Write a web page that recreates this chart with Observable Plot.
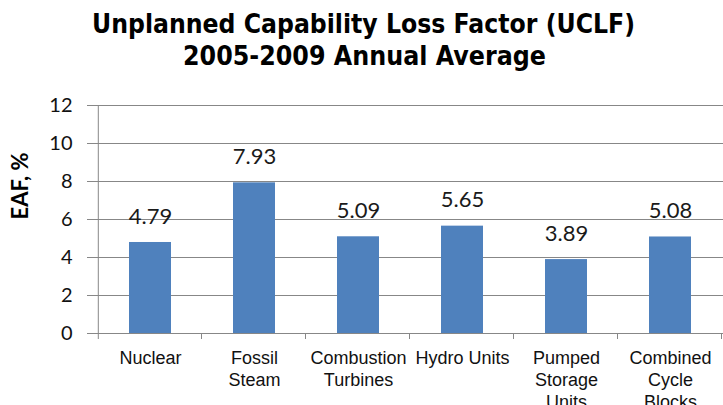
<!DOCTYPE html>
<html>
<head>
<meta charset="utf-8">
<script src="https://cdn.jsdelivr.net/npm/d3@7"></script>
<script src="https://cdn.jsdelivr.net/npm/@observablehq/plot@0.6"></script>
<style>
  html, body { margin: 0; padding: 0; background: #fff; }
  #wrap { width: 723px; height: 405px; overflow: hidden; }
  #title { display: block; }
</style>
</head>
<body>
<div id="wrap">
  <svg id="title" width="723" height="90">
    <text x="363.5" y="33" text-anchor="middle" font-family="DejaVu Sans" font-weight="bold" font-size="26" textLength="543" lengthAdjust="spacingAndGlyphs" fill="#000">Unplanned Capability Loss Factor (UCLF)</text>
    <text x="364.5" y="65" text-anchor="middle" font-family="DejaVu Sans" font-weight="bold" font-size="26" textLength="363" lengthAdjust="spacingAndGlyphs" fill="#000">2005-2009 Annual Average</text>
  </svg>
  <div id="chart"></div>
</div>
<script>
const categories = ["Nuclear", "Fossil\nSteam", "Combustion\nTurbines", "Hydro Units", "Pumped\nStorage\nUnits", "Combined\nCycle\nBlocks"];
const values = [4.79, 7.93, 5.09, 5.65, 3.89, 5.08];
const yTicks = [0, 2, 4, 6, 8, 10, 12];
const yLabel = "EAF, %";

const data = categories.map((c, i) => ({category: c, value: values[i]}));
const gray = "#878787";

const boundaryTicks = (index, scales, values_, dimensions) => {
  const {x, y} = scales;
  const step = x(categories[1]) - x(categories[0]);
  const g = d3.create("svg:g").attr("stroke", gray).attr("stroke-width", 1);
  const y0 = y(0), yTop = y(12);
  const left = x(categories[0]) - 0.3 * step;
  g.append("line").attr("x1", left + 0.5).attr("x2", left + 0.5).attr("y1", yTop).attr("y2", y0 + 6);
  for (let i = 1; i <= categories.length; i++) {
    const bx = Math.round(left + i * step) - 0.5;
    g.append("line").attr("x1", bx).attr("x2", bx).attr("y1", y0).attr("y2", y0 + 6);
  }
  return g.node();
};

const chart = Plot.plot({
  width: 723,
  height: 315,
  marginTop: 15,
  marginBottom: 72,
  marginLeft: 97,
  marginRight: 0,
  style: {fontFamily: "Lato", background: "#fff", overflow: "visible"},
  x: {domain: categories, paddingInner: 0.6, paddingOuter: 0.3, axis: null},
  y: {domain: [0, 12], axis: null},
  marks: [
    Plot.gridY(yTicks, {stroke: gray, strokeOpacity: 1}),
    Plot.axisY(yTicks, {tickSize: 10, tickPadding: 15, stroke: gray, fill: "#111", fontSize: 20, label: null}),
    boundaryTicks,
    Plot.barY(data, {x: "category", y: "value", fill: "#4F81BD"}),
    Plot.text(data, {x: "category", y: "value", text: d => d.value.toFixed(2), dy: -26, fontSize: 22, fill: "#1a1a1a"}),
    Plot.text(data, {x: "category", text: "category", frameAnchor: "bottom", lineAnchor: "top", dy: 15, fontSize: 18, lineHeight: 1.22, fontFamily: "Liberation Sans", fill: "#111"}),
    Plot.text([yLabel], {frameAnchor: "left", rotate: -90, dx: -77, fontWeight: "bold", fontSize: 22, fill: "#000"})
  ]
});
document.getElementById("chart").appendChild(chart);
</script>
</body>
</html>
